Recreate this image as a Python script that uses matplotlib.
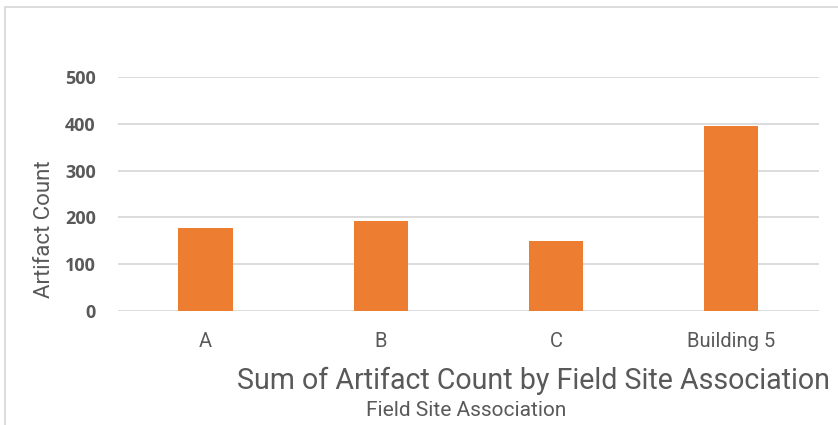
import matplotlib.pyplot as plt
from matplotlib.patches import Rectangle

categories = ["A", "B", "C", "Building 5"]
counts = [178, 192, 150, 396]
yticks = [0, 100, 200, 300, 400, 500]

narrow = ["Roboto", "DejaVu Sans"]
grey = "#595959"

fig = plt.figure(figsize=(8.38, 4.25), dpi=100)
ax = fig.add_axes([0.1408, 0.268, 0.8362, 0.551])

x = range(len(categories))
ax.bar(x, counts, width=0.31, color="#ED7D31", zorder=3)

ax.set_xlim(-0.5, len(categories) - 0.5)
ax.set_ylim(0, 500)
ax.set_yticks(yticks)
ax.set_yticklabels([str(t) for t in yticks], fontsize=13, fontweight="bold",
                   color=grey, family=["Open Sans", "DejaVu Sans"])
ax.set_xticks(list(x))
ax.set_xticklabels(categories, fontsize=14.5, color=grey, family=narrow)
ax.tick_params(axis="x", length=0, pad=15)
ax.tick_params(axis="y", length=0, pad=16)
ax.grid(axis="y", color="#D9D9D9", linewidth=1.3, zorder=0)
for s in ax.spines.values():
    s.set_visible(False)

ax.set_ylabel("Artifact Count", fontsize=16, color=grey, family=narrow)
ax.yaxis.set_label_coords(-0.09, 0.35)

fig.text(0.637, 0.104, "Sum of Artifact Count by Field Site Association",
         fontsize=20.6, color=grey, family=narrow, ha="center", va="center")
fig.text(0.556, 0.035, "Field Site Association", fontsize=15, color=grey,
         family=narrow, ha="center", va="center")

fig.patches.append(Rectangle((5 / 838, -0.1), 1.2, 1 - 7 / 425 + 0.1,
                             transform=fig.transFigure, fill=False,
                             edgecolor="#D9D9D9", linewidth=1.3))

fig.savefig("out.png", dpi=100)
